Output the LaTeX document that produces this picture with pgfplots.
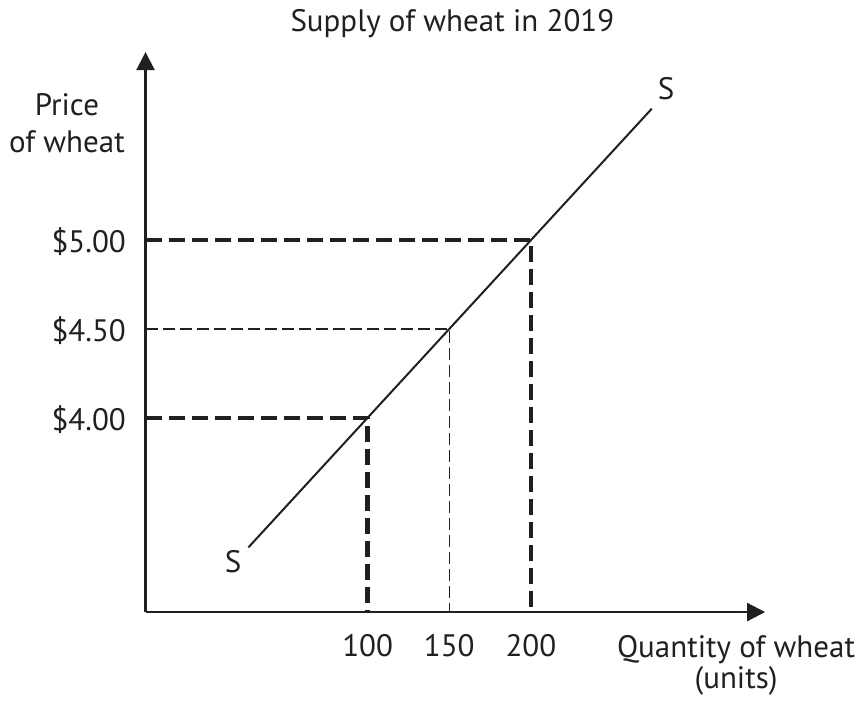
\documentclass[border=0pt]{standalone}
\usepackage{fontspec}
\setmainfont{PT Sans}
\usepackage{pgfplots}
\pgfplotsset{compat=1.18}
\usetikzlibrary{arrows.meta}
\definecolor{ink}{HTML}{231F20}
\begin{document}
\begin{tikzpicture}[font=\fontsize{31}{38}\selectfont]
\begin{axis}[
  x=1.633pt, y=177.6pt,
  xmin=-36, xmax=343.4, ymin=2.906, ymax=6.059,
  axis lines=left,
  axis line style={draw=ink, line width=2.2pt, -{Triangle[length=18pt,width=18pt]}},
  xtick={100,150,200}, xticklabels={100,150,200},
  ytick={4,4.5,5}, yticklabels={\$4.00,\$4.50,\$5.00},
  major tick length=0pt,
  tick style={draw=none},
  xticklabel style={anchor=base, inner sep=0pt, yshift=-44.7pt, text=ink},
  yticklabel style={anchor=base east, inner sep=0pt, xshift=-19.5pt, yshift=-12.6pt, text=ink},
  clip=false,
  every axis plot/.append style={mark=none},
]
\addplot[ink, line width=4.3pt, dash pattern=on 16pt off 7pt] coordinates {(-36,5) (200,5) (200,2.906)};
\addplot[ink, line width=4.3pt, dash pattern=on 16pt off 7pt] coordinates {(-36,4) (100,4) (100,2.906)};
\addplot[ink, line width=1.3pt, dash pattern=on 12pt off 5pt] coordinates {(-36,4.5) (150,4.5) (150,2.906)};
\addplot[ink, line width=2pt] coordinates {(27,3.27) (274,5.74)};
\node[text=ink, anchor=base] at (axis cs:151.9,6.172) {Supply of wheat in 2019};
\node[text=ink, anchor=base] at (axis cs:-84.1,5.704) {Price};
\node[text=ink, anchor=base] at (axis cs:-84.1,5.496) {of wheat};
\node[text=ink, anchor=base] at (axis cs:325.6,2.653) {Quantity of wheat};
\node[text=ink, anchor=base] at (axis cs:325.6,2.478) {(units)};
\node[text=ink, anchor=base] at (axis cs:17.6,3.126) {S};
\node[text=ink, anchor=base] at (axis cs:282.7,5.789) {S};
\coordinate (bbl) at (axis cs:-125.1,2.377);
\coordinate (btr) at (axis cs:402.1,6.352);
\end{axis}
\pgfresetboundingbox
\path[use as bounding box] (bbl) rectangle (btr);
\end{tikzpicture}
\end{document}
